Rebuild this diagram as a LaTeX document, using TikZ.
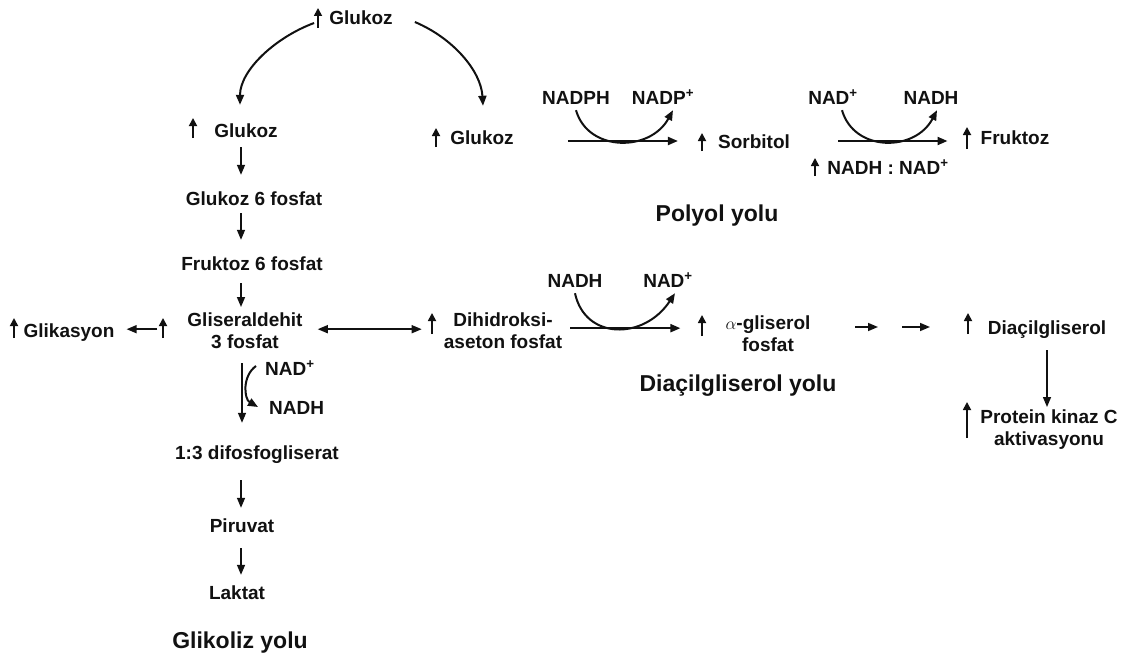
\documentclass[tikz,border=0pt]{standalone}
\usepackage{fontspec}
\setmainfont{Liberation Sans}
\usetikzlibrary{arrows.meta}
\definecolor{Paper}{HTML}{FFFFFF}
\definecolor{Ink}{HTML}{111111}

\begin{document}
\begin{tikzpicture}[x=1pt,y=-1pt,>={Triangle[length=10pt,width=8pt]},
  every node/.style={font=\fontsize{19}{22}\selectfont\bfseries,text=Ink,inner sep=2pt},
  lbl/.style={text height=14pt,text depth=4pt}, pair/.style={align=center,anchor=north},
  route/.style={font=\fontsize{23}{27}\selectfont\bfseries,text height=17pt,text depth=5pt},
  flow/.style={Ink,line width=1.5pt,->}, turn/.style={Ink,line width=2pt,->},
  rise/.style={Ink,line width=1.7pt,-{Triangle[length=8pt,width=8pt]}}]
\fill[Paper] (0,0) rectangle (1123,661);
% glycolysis column
\node[lbl] (glc0) at (361,20){Glukoz}; \draw[rise] (318,28)--++(0,-20);
\node[lbl] (glc1) at (246,132){Glukoz}; \draw[rise] (193,138)--++(0,-20);
\node[lbl] (glc2) at (482,139){Glukoz}; \draw[rise] (436,147)--++(0,-19);
\node[lbl] (g6p) at (254,200){Glukoz 6 fosfat}; \node[lbl] (f6p) at (252,265){Fruktoz 6 fosfat};
\node[pair] (gap) at (245,311){Gliseraldehit\\3 fosfat};
\node[lbl,anchor=west] (nad1) at (263,370){NAD\textsuperscript{+}}; \node[lbl,anchor=west] (nadh1) at (267,409){NADH};
\node[lbl] (dpg) at (257,454){1:3 difosfogliserat}; \node[lbl] (pyr) at (242,527){Piruvat}; \node[lbl] (lac) at (237,594){Laktat};
\node[route] (glyc) at (240,642){Glikoliz yolu};
\node[lbl] (glik) at (69,332){Glikasyon}; \draw[rise] (14,338)--++(0,-20); \draw[rise] (163,338)--++(0,-20);
\coordinate (ax) at (241,0);
\draw[turn] ([xshift=-13pt,yshift=-3pt]glc0.west) .. controls +(-38,14) and +(0,-35) .. ([xshift=-6pt,yshift=16pt]glc1.north);
\draw[turn] ([xshift=20pt,yshift=-2pt]glc0.east) .. controls +(38,16) and +(-2,-35) .. ([xshift=1pt,yshift=22pt]glc2.north);
\draw[flow,shorten <=4pt,shorten >=14pt] (glc1.south-|ax)--(g6p.north-|ax);
\draw[flow,shorten <=2pt,shorten >=14pt] (g6p.south-|ax)--(f6p.north-|ax);
\draw[flow,shorten <=7pt,shorten >=4pt] (f6p.south-|ax)--(gap.north-|ax);
\draw[flow,shorten <=12pt,shorten >=20pt] ([xshift=1pt]gap.south-|ax)--([xshift=1pt]dpg.north-|ax);
\draw[flow,shorten <=15pt,shorten >=8pt] (dpg.south-|ax)--(pyr.north-|ax);
\draw[flow,shorten <=10pt,shorten >=8pt] (pyr.south-|ax)--(lac.north-|ax);
\draw[turn] ([xshift=-7pt,yshift=4pt]nad1.west) .. controls +(-14,10) and +(-14,-8) .. ([xshift=-9pt,yshift=2pt]nadh1.west);
\draw[flow,shorten <=28pt,shorten >=10pt] ([yshift=2pt]gap.west)--([yshift=2pt]gap.west-|glik.east);
% polyol
\node[lbl] (nadph) at (576,99){NADPH}; \node[lbl] (nadp) at (663,99){NADP\textsuperscript{+}};
\node[lbl] (sorb) at (754,143){Sorbitol}; \draw[rise] (702,151)--++(0,-18);
\node[lbl] (nad2) at (833,99){NAD\textsuperscript{+}}; \node[lbl] (nadh2) at (931,99){NADH};
\node[lbl] (fru) at (1015,139){Fruktoz}; \draw[rise] (967,149)--++(0,-22);
\node[lbl] (ratio) at (888,169){NADH : NAD\textsuperscript{+}}; \draw[rise] (815,176)--++(0,-18);
\node[route] (poly) at (717,215){Polyol yolu};
\draw[turn,shorten <=52pt,shorten >=38pt] ([yshift=-2pt]glc2.east)--([yshift=-2pt]glc2.east-|sorb.west);
\draw[turn,shorten <=46pt,shorten >=31pt] ([yshift=2pt]sorb.east)--([yshift=2pt]sorb.east-|fru.west);
\draw[turn] (nadph.south) .. controls +(12,42) and +(-23,42) .. ([xshift=10pt]nadp.south);
\draw[turn] ([xshift=9pt]nad2.south) .. controls +(12,42) and +(-22,42) .. ([xshift=6pt]nadh2.south);
% diacylglycerol
\node[pair] (dhap) at (503,311){Dihidroksi-\\aseton fosfat}; \draw[rise] (432,334)--++(0,-21);
\node[lbl] (nadh3) at (575,282){NADH}; \node[lbl] (nad3) at (668,282){NAD\textsuperscript{+}};
\node[pair] (agp) at (768,314){\(\alpha\)-gliserol\\fosfat}; \draw[rise] (702,336)--++(0,-21);
\node[lbl] (dag) at (1047,329){Diaçilgliserol}; \draw[rise] (968,334)--++(0,-21);
\node[pair] (pkc) at (1049,408){Protein kinaz C\\aktivasyonu}; \draw[rise] (967,438)--++(0,-36);
\node[route] (dagw) at (738,385){Diaçilgliserol yolu};
\draw[flow,<->,shorten <=13pt,shorten >=20pt] ([yshift=2pt]gap.east)--([yshift=2pt]gap.east-|dhap.west);
\draw[turn,shorten <=6pt,shorten >=43pt] ([yshift=3pt]dhap.east)--([yshift=3pt]dhap.east-|agp.west);
\draw[turn] (nadh3.south) .. controls +(10,47) and +(-31,47) .. ([xshift=7pt]nad3.south);
\coordinate (s1) at (855,327); \coordinate (s2) at (878,327); \coordinate (s3) at (902,327); \coordinate (s4) at (930,327);
\draw[flow] (s1)--(s2); \draw[flow] (s3)--(s4);
\draw[flow,shorten <=10pt,shorten >=1pt] (dag.south)--(dag.south|-pkc.north);
\end{tikzpicture}
\end{document}
